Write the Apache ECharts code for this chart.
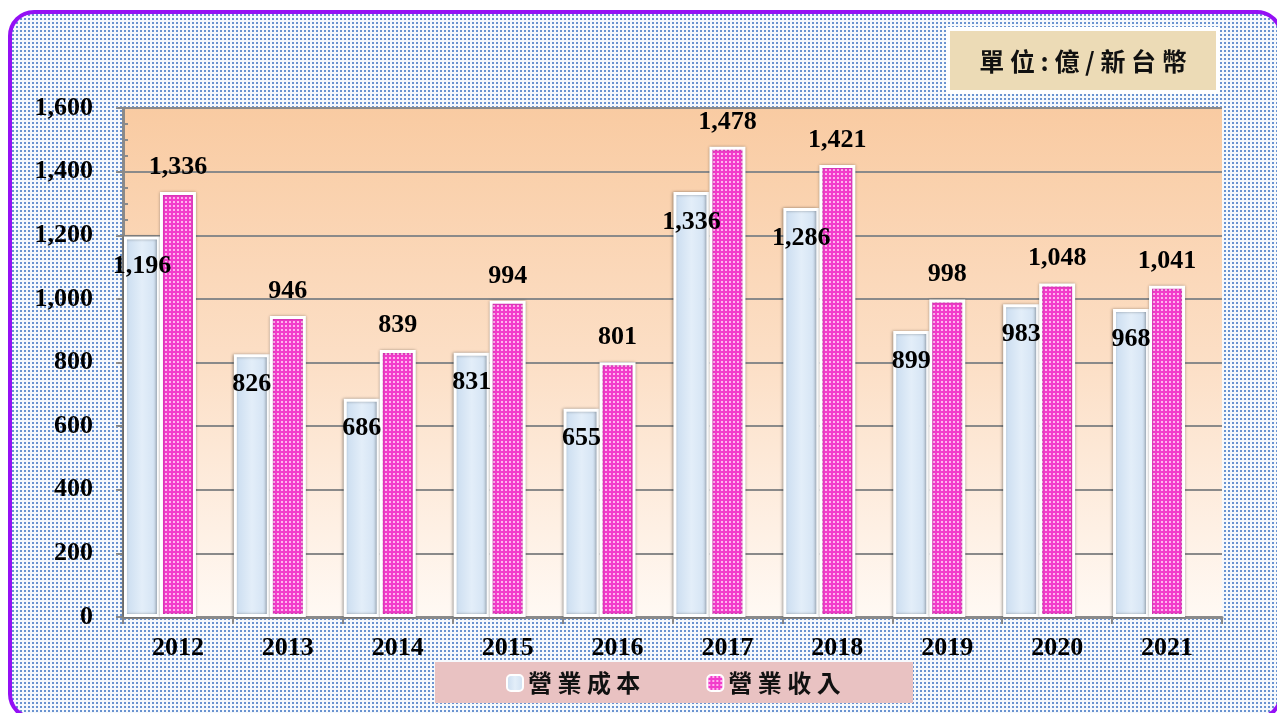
<!DOCTYPE html>
<html>
<head>
<meta charset="utf-8">
<script src="https://cdn.jsdelivr.net/npm/echarts@6/dist/echarts.min.js"></script>
<style>
  html, body { margin: 0; padding: 0; width: 1277px; height: 713px; overflow: hidden; background: #fff; }
  #frame {
    position: absolute; left: 8px; top: 10px; width: 1275px; height: 710px;
    box-sizing: border-box; border: 4px solid #9410f5; border-radius: 26px;
    background-color: #f6f9fd;
    background-image:
      linear-gradient(90deg, transparent 2px, #f6f9fd 2px),
      linear-gradient(#6a93d0 2px, transparent 2px);
    background-size: 4px 4px;
  }
  #chart { position: absolute; left: 0; top: 0; width: 1277px; height: 713px; }
</style>
</head>
<body>
<div id="frame"></div>
<div id="chart"></div>
<script>
  const years = ['2012', '2013', '2014', '2015', '2016', '2017', '2018', '2019', '2020', '2021']
  const costValues = [1196, 826, 686, 831, 655, 1336, 1286, 899, 983, 968]
  const revenueValues = [1336, 946, 839, 994, 801, 1478, 1421, 998, 1048, 1041]
  const seriesNames = ['營業成本', '營業收入']
  const unitText = '單 位 : 億 / 新 台 幣'

  const serif = '"Liberation Serif", "Times New Roman", serif'
  const cjk = '"Noto Sans CJK TC", "Noto Sans CJK SC", sans-serif'
  const gray = '#8a8a8a'

  // magenta dotted fill
  const dots = document.createElement('canvas')
  dots.width = 4
  dots.height = 4
  const ctx = dots.getContext('2d')
  ctx.fillStyle = '#f23ccb'
  ctx.fillRect(0, 0, 4, 4)
  ctx.fillStyle = '#ffb3ee'
  ctx.fillRect(1, 1, 2, 2)

  const fmt = (v) => v.toLocaleString('en-US')

  const myChart = echarts.init(document.getElementById('chart'))

  const baseY = {
    type: 'value',
    min: 0,
    max: 1600,
    interval: 200,
    position: 'left',
  }

  myChart.setOption({
    backgroundColor: 'transparent',
    animation: false,
    grid: {
      left: 123,
      right: 55,
      top: 108,
      bottom: 96,
      show: true,
      borderWidth: 0,
      backgroundColor: new echarts.graphic.LinearGradient(0, 0, 0, 1, [
        { offset: 0, color: '#f9cba2' },
        { offset: 0.5, color: '#fcdfc6' },
        { offset: 1, color: '#fff9f4' },
      ]),
    },
    legend: {
      data: seriesNames,
      left: 506,
      top: 671,
      padding: 0,
      itemWidth: 16,
      itemHeight: 16,
      itemGap: 66,
      formatter: (name) => name.split('').join(' '),
      textStyle: { fontFamily: cjk, fontWeight: 'bold', fontSize: 24, color: '#111' },
    },
    graphic: [
      {
        type: 'rect',
        shape: { x: 948, y: 29, width: 270, height: 63 },
        style: { fill: '#ecdbb6', stroke: '#fff', lineWidth: 4 },
        z: 0,
      },
      {
        type: 'text',
        x: 1083,
        y: 61,
        style: {
          text: unitText,
          fill: '#111',
          font: 'bold 25px ' + cjk,
          textAlign: 'center',
          textVerticalAlign: 'middle',
        },
        z: 1,
      },
      {
        type: 'rect',
        shape: { x: 435, y: 662, width: 478, height: 41 },
        style: { fill: '#e9c2c2' },
        z: -1,
      },
    ],
    xAxis: {
      type: 'category',
      data: years,
      axisLine: { lineStyle: { color: gray, width: 3 } },
      axisTick: { show: true, length: 7, lineStyle: { color: gray, width: 2 } },
      axisLabel: { margin: 18, fontFamily: serif, fontWeight: 'bold', fontSize: 26, color: '#000' },
    },
    yAxis: [
      {
        ...baseY,
        axisLine: { show: true, lineStyle: { color: gray, width: 3 } },
        axisTick: { show: true, inside: true, length: 5, lineStyle: { color: gray, width: 2 } },
        minorTick: { show: true, splitNumber: 4, length: 5, lineStyle: { color: gray, width: 2 } },
        splitLine: { show: true, lineStyle: { color: gray, width: 2 } },
        axisLabel: { show: false },
      },
      {
        ...baseY,
        axisLine: { show: false },
        axisTick: { show: true, inside: false, length: 7, lineStyle: { color: gray, width: 2 } },
        splitLine: { show: false },
        axisLabel: {
          margin: 30,
          formatter: (v) => fmt(v),
          fontFamily: serif,
          fontWeight: 'bold',
          fontSize: 26,
          color: '#000',
        },
      },
    ],
    series: [
      {
        name: seriesNames[0],
        type: 'bar',
        data: costValues,
        barWidth: 36,
        barGap: '0%',
        itemStyle: {
          color: new echarts.graphic.LinearGradient(0, 0, 1, 0, [
            { offset: 0, color: '#c8dbef' },
            { offset: 0.5, color: '#e3eef9' },
            { offset: 1, color: '#cfe0f2' },
          ]),
          borderColor: '#ffffff',
          borderWidth: 3,
          shadowColor: 'rgba(0,0,0,0.35)',
          shadowBlur: 3,
          shadowOffsetX: -1,
        },
        label: {
          show: true,
          position: ['50%', 30],
          align: 'center',
          verticalAlign: 'middle',
          formatter: (p) => fmt(p.value),
          fontFamily: serif,
          fontWeight: 'bold',
          fontSize: 26,
          color: '#000',
        },
      },
      {
        name: seriesNames[1],
        type: 'bar',
        data: revenueValues,
        barWidth: 36,
        barGap: '0%',
        itemStyle: {
          color: { image: dots, repeat: 'repeat' },
          borderColor: '#ffffff',
          borderWidth: 3,
          shadowColor: 'rgba(0,0,0,0.3)',
          shadowBlur: 3,
        },
        label: {
          show: true,
          position: 'top',
          distance: 12,
          formatter: (p) => fmt(p.value),
          fontFamily: serif,
          fontWeight: 'bold',
          fontSize: 26,
          color: '#000',
        },
      },
      {
        // empty slot that keeps the pair left of the category centre
        name: 'gap',
        type: 'bar',
        data: years.map(() => 0),
        barWidth: 36,
        barGap: '0%',
        silent: true,
        itemStyle: { color: 'transparent' },
        label: { show: false },
      },
    ],
  })
</script>
</body>
</html>
